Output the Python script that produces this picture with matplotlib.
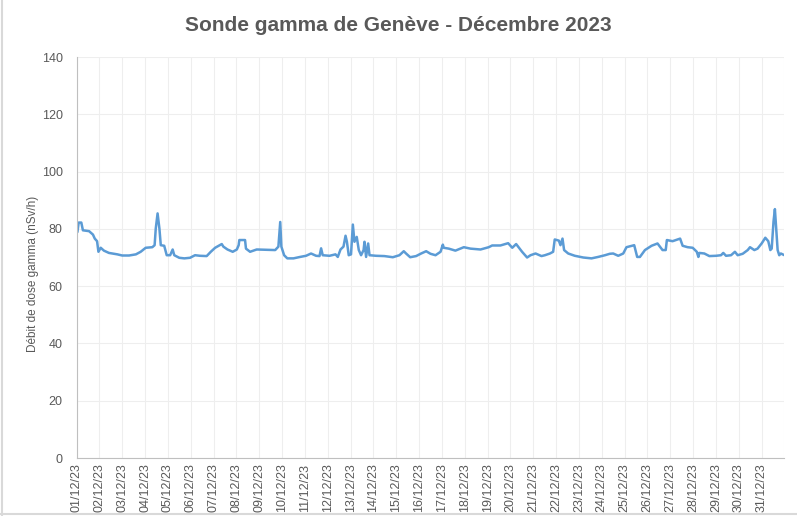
import matplotlib
matplotlib.use("Agg")
import matplotlib.pyplot as plt
from matplotlib.lines import Line2D
import numpy as np
import pandas as pd
import matplotlib.dates as mdates

# --- data (time in days since 01/12/2023 00:00, dose rate in nSv/h) ---
days = [0.00, 0.04, 0.095, 0.21, 0.28, 0.55, 0.72, 0.80, 0.90, 0.96, 1.06, 1.20, 1.42, 1.79,
        2.00, 2.30, 2.60, 2.81, 3.03, 3.32, 3.42, 3.47, 3.55, 3.63, 3.69, 3.84, 3.95, 4.10,
        4.21, 4.28, 4.50, 4.72, 4.97, 5.19, 5.41, 5.70, 5.88, 6.07, 6.36, 6.43, 6.61, 6.84,
        7.02, 7.10, 7.13, 7.38, 7.42, 7.60, 7.89, 8.33, 8.70, 8.84, 8.92, 8.97, 9.09, 9.23,
        9.50, 9.79, 10.05, 10.27, 10.49, 10.64, 10.71, 10.78, 11.08, 11.34, 11.44, 11.56,
        11.69, 11.78, 11.84, 11.92, 12.02, 12.10, 12.17, 12.27, 12.36, 12.46, 12.57, 12.61,
        12.68, 12.77, 12.83, 13.12, 13.48, 13.85, 14.14, 14.33, 14.43, 14.61, 14.87, 15.09,
        15.31, 15.50, 15.72, 15.94, 16.04, 16.08, 16.30, 16.59, 16.96, 17.25, 17.69, 18.05,
        18.20, 18.56, 18.90, 19.08, 19.25, 19.51, 19.73, 19.88, 20.10, 20.36, 20.51, 20.73,
        20.87, 20.94, 21.12, 21.19, 21.28, 21.35, 21.53, 21.82, 22.19, 22.55, 22.84, 23.14,
        23.35, 23.50, 23.72, 23.94, 24.08, 24.42, 24.55, 24.67, 24.89, 25.18, 25.44, 25.66,
        25.80, 25.85, 26.10, 26.43, 26.54, 26.76, 26.98, 27.16, 27.23, 27.27, 27.49, 27.71,
        28.00, 28.22, 28.32, 28.44, 28.66, 28.83, 28.95, 29.17, 29.39, 29.49, 29.68, 29.82,
        30.00, 30.16, 30.29, 30.38, 30.44, 30.52, 30.58, 30.62, 30.70, 30.77, 30.84, 31.00]
dose = [78.6, 78.9, 82.2, 82.2, 79.5, 79.2, 78.0, 76.6, 75.7, 72.0, 73.4, 72.4, 71.6, 71.1,
        70.7, 70.7, 71.1, 72.0, 73.4, 73.6, 74.3, 80.1, 85.4, 80.1, 74.3, 74.1, 70.8, 70.8,
        72.8, 70.8, 69.9, 69.7, 69.9, 70.8, 70.6, 70.5, 72.0, 73.4, 74.7, 73.8, 72.8, 72.0,
        72.8, 74.3, 76.1, 76.1, 73.1, 72.0, 72.8, 72.7, 72.6, 73.8, 82.4, 73.8, 70.8, 69.7,
        69.7, 70.2, 70.6, 71.4, 70.6, 70.5, 73.2, 70.8, 70.6, 71.1, 70.2, 72.8,
        73.8, 77.6, 75.5, 70.8, 71.1, 81.5, 75.5, 77.2, 72.6, 70.8, 72.6, 75.5,
        70.2, 74.9, 70.8, 70.6, 70.5, 70.1, 70.8, 72.2, 71.4, 70.1, 70.5, 71.4,
        72.2, 71.3, 70.8, 72.0, 74.5, 73.4, 73.1, 72.4, 73.6, 73.1, 72.8, 73.6,
        74.2, 74.2, 75.0, 73.4, 74.7, 72.0, 70.0, 70.8, 71.4, 70.5, 70.8, 71.4,
        72.0, 76.3, 75.9, 74.3, 76.6, 72.6, 71.4, 70.6, 70.0, 69.7, 70.2, 70.8,
        71.3, 71.4, 70.6, 71.4, 73.6, 74.3, 70.2, 70.2, 72.6, 74.1, 74.9, 72.6,
        72.6, 76.1, 75.7, 76.6, 74.1, 73.6, 73.4, 72.0, 70.2, 71.6, 71.4, 70.5,
        70.6, 70.8, 71.6, 70.6, 70.8, 72.0, 70.8, 71.3, 72.6, 73.6, 72.6, 73.1,
        74.9, 76.9, 75.7, 72.6, 73.1, 82.6, 86.9, 82.0, 72.6, 70.8, 71.4, 70.8]

start = "2023-12-01"
n_days = 31
title = "Sonde gamma de Genève - Décembre 2023"
ylabel = "Débit de dose gamma (nSv/h)"
yticks = [0, 20, 40, 60, 80, 100, 120, 140]

# --- styling ---
text_col = "#595959"
line_col = "#5B9BD5"
grid_col = "#EEEEEE"
plt.rcParams["font.family"] = ["Liberation Sans", "DejaVu Sans"]

t0 = pd.Timestamp(start)
t = t0 + pd.to_timedelta(np.array(days), unit="D")
tick_dates = pd.date_range(t0, periods=n_days, freq="D")

fig = plt.figure(figsize=(7.97, 5.16), dpi=100)
ax = fig.add_axes([0.096, 0.1124, 0.8883, 0.7771])

ax.plot(t, dose, color=line_col, lw=1.8, solid_joinstyle="round")

ax.set_xlim(t0, t0 + pd.Timedelta(days=n_days))
ax.set_ylim(0, 140)
ax.set_yticks(yticks)
ax.set_xticks(tick_dates)
ax.xaxis.set_major_formatter(mdates.DateFormatter("%d/%m/%y"))
plt.setp(ax.get_xticklabels(), rotation=90, ha="center", va="top")

ax.grid(True, color=grid_col, lw=0.8)
# right-edge grid line (end of month)
ax.axvline(t0 + pd.Timedelta(days=n_days), color=grid_col, lw=0.8, zorder=0)
ax.set_axisbelow(True)
for s in ["top", "right"]:
    ax.spines[s].set_visible(False)
ax.spines["left"].set_color("#BFBFBF")
ax.spines["bottom"].set_color("#BFBFBF")
ax.tick_params(axis="both", length=0, colors=text_col, labelsize=9)
ax.tick_params(axis="x", pad=4)
ax.tick_params(axis="y", pad=10)

ax.set_ylabel(ylabel, color=text_col, fontsize=8.5)
ax.yaxis.set_label_coords(-0.0535, 0.459)
fig.text(0.5, 0.951, title, ha="center", va="center", fontsize=15,
         fontweight="bold", color=text_col)

# chart border (left and bottom visible in reference)
fig.add_artist(Line2D([0.003, 0.003], [0, 1], transform=fig.transFigure,
                      color="#D9D9D9", lw=1.5))
fig.add_artist(Line2D([0, 1], [0.003, 0.003], transform=fig.transFigure,
                      color="#D9D9D9", lw=1.5))

fig.savefig("out.png", dpi=100)
